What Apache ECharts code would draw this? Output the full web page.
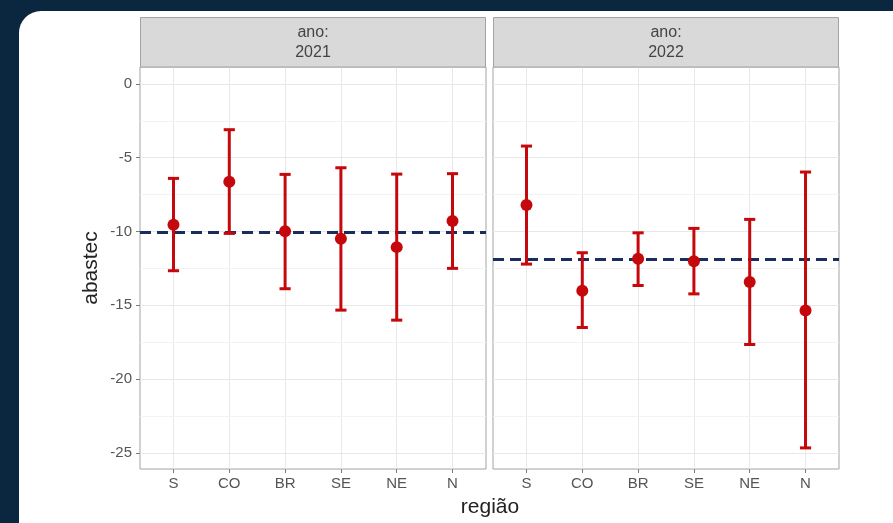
<!DOCTYPE html>
<html>
<head>
<meta charset="utf-8">
<script src="https://cdn.jsdelivr.net/npm/echarts@6/dist/echarts.min.js"></script>
<style>
  html, body { margin: 0; padding: 0; background: #0b2740; }
  #chart { width: 893px; height: 523px; }
</style>
</head>
<body>
<div id="chart"></div>
<script>
// Regions on the x axis, in plotting order
const regions = ['S', 'CO', 'BR', 'SE', 'NE', 'N'];
const years = ['2021', '2022'];

// Estimated mean and interval bounds per region, 2021
const mean2021  = [-9.54, -6.63, -9.99, -10.49, -11.06, -9.29];
const lower2021 = [-12.66, -10.13, -13.88, -15.33, -16.01, -12.50];
const upper2021 = [-6.40, -3.10, -6.13, -5.68, -6.11, -6.08];

// Estimated mean and interval bounds per region, 2022
const mean2022  = [-8.21, -14.02, -11.85, -12.01, -13.43, -15.35];
const lower2022 = [-12.21, -16.51, -13.66, -14.23, -17.66, -24.67];
const upper2022 = [-4.21, -11.44, -10.09, -9.79, -9.18, -5.97];

// Reference (national) level drawn as a dashed line in each panel
const refLevel = [-10.05, -11.9];

// Axis tick values
const yTicks = [-25, -20, -15, -10, -5, 0];
const yMinor = [-22.5, -17.5, -12.5, -7.5, -2.5];

const RED = '#c5080b';
const NAVY = '#1b2d5c';
const GRID = '#e8e8e8';
const FONT = '"Liberation Sans", Arial, sans-serif';
const CAP_HALF = 0.1; // half width of the error bar caps, in x units

const xPos = regions.map((_, i) => i + 1);
const panels = [
  { mean: mean2021, lower: lower2021, upper: upper2021 },
  { mean: mean2022, lower: lower2022, upper: upper2022 }
];

const panelLeft = [140, 493];
const panelWidth = 346;
const panelTop = 67;
const panelHeight = 402;

function renderErrorBar(params, api) {
  const x = api.value(0), lo = api.value(1), hi = api.value(2);
  const top = api.coord([x, hi]);
  const bot = api.coord([x, lo]);
  const half = api.size([CAP_HALF, 0])[0];
  const style = { stroke: RED, lineWidth: 3, lineCap: 'butt' };
  return {
    type: 'group',
    children: [
      { type: 'line', shape: { x1: top[0], y1: top[1], x2: bot[0], y2: bot[1] }, style },
      { type: 'line', shape: { x1: top[0] - half, y1: top[1], x2: top[0] + half, y2: top[1] }, style },
      { type: 'line', shape: { x1: bot[0] - half, y1: bot[1], x2: bot[0] + half, y2: bot[1] }, style }
    ]
  };
}

const grids = panelLeft.map(left => ({
  left, top: panelTop, width: panelWidth, height: panelHeight,
  show: true, backgroundColor: '#ffffff', borderColor: '#a3a3a3', borderWidth: 1
}));

const xAxes = panelLeft.map((_, k) => ({
  type: 'value', gridIndex: k, min: 0.4, max: 6.6,
  axisLine: { show: false, onZero: false },
  axisTick: { show: true, length: 4, lineStyle: { color: '#7a7a7a' }, customValues: xPos },
  axisLabel: {
    customValues: xPos, margin: 7, color: '#555555', fontSize: 15, fontFamily: FONT,
    formatter: v => regions[Math.round(v) - 1]
  },
  splitLine: { show: true, lineStyle: { color: GRID, width: 1 } }
}));

const yAxes = panelLeft.map((_, k) => ({
  type: 'value', gridIndex: k, min: -26.1, max: 1.15,
  axisLine: { show: false, onZero: false },
  axisTick: { show: k === 0, length: 4, lineStyle: { color: '#7a7a7a' }, customValues: yTicks },
  axisLabel: { show: k === 0, customValues: yTicks, margin: 8, color: '#555555', fontSize: 15, fontFamily: FONT },
  splitLine: { show: true, lineStyle: { color: GRID, width: 1 } },
  name: k === 0 ? 'abastec' : '',
  nameLocation: 'middle', nameRotate: 90, nameGap: 38,
  nameTextStyle: { fontSize: 21, color: '#222222', fontFamily: FONT }
}));

const series = [];
panels.forEach((p, k) => {
  // faint minor grid lines between the major ones
  series.push({
    type: 'line', xAxisIndex: k, yAxisIndex: k, data: [], z: 1,
    markLine: {
      z: 1, silent: true, symbol: 'none', label: { show: false },
      lineStyle: { color: '#f3f3f3', width: 1, type: 'solid' },
      data: yMinor.map(v => ({ yAxis: v }))
    }
  });
  // dashed reference level
  series.push({
    type: 'line', xAxisIndex: k, yAxisIndex: k, data: [], z: 3,
    markLine: {
      z: 3, silent: true, symbol: 'none', label: { show: false },
      lineStyle: { color: NAVY, width: 2.8, type: [11, 6] },
      data: [{ yAxis: refLevel[k] }]
    }
  });
  // interval bars
  series.push({
    type: 'custom', xAxisIndex: k, yAxisIndex: k, z: 4,
    renderItem: renderErrorBar,
    encode: { x: 0, y: [1, 2] },
    data: xPos.map((x, i) => [x, p.lower[i], p.upper[i]])
  });
  // point estimates
  series.push({
    type: 'scatter', xAxisIndex: k, yAxisIndex: k, z: 5,
    symbol: 'circle', symbolSize: 12,
    itemStyle: { color: RED, opacity: 1 },
    data: xPos.map((x, i) => [x, p.mean[i]])
  });
});

const graphics = [
  // white card behind the chart
  { type: 'rect', z: -10, shape: { x: 19, y: 11, width: 900, height: 540, r: 22 }, style: { fill: '#ffffff' } }
];
panelLeft.forEach((left, k) => {
  graphics.push({
    type: 'rect', z: 10,
    shape: { x: left + 0.5, y: 17.5, width: panelWidth - 1, height: panelTop - 17.5 },
    style: { fill: '#d9d9d9', stroke: '#a3a3a3', lineWidth: 1 }
  });
  graphics.push({
    type: 'text', z: 11,
    x: left + panelWidth / 2, y: 43,
    style: {
      text: 'ano:\n' + years[k], fill: '#444444', fontSize: 16, fontFamily: FONT,
      align: 'center', verticalAlign: 'middle', lineHeight: 20
    }
  });
});
graphics.push({
  type: 'text', z: 11, x: 490, y: 507,
  style: { text: 'região', fill: '#222222', fontSize: 21, fontFamily: FONT, align: 'center', verticalAlign: 'middle' }
});

const chart = echarts.init(document.getElementById('chart'), null, { renderer: 'canvas' });
chart.setOption({
  backgroundColor: '#0b2740',
  animation: false,
  grid: grids,
  xAxis: xAxes,
  yAxis: yAxes,
  graphic: graphics,
  series
});
</script>
</body>
</html>
